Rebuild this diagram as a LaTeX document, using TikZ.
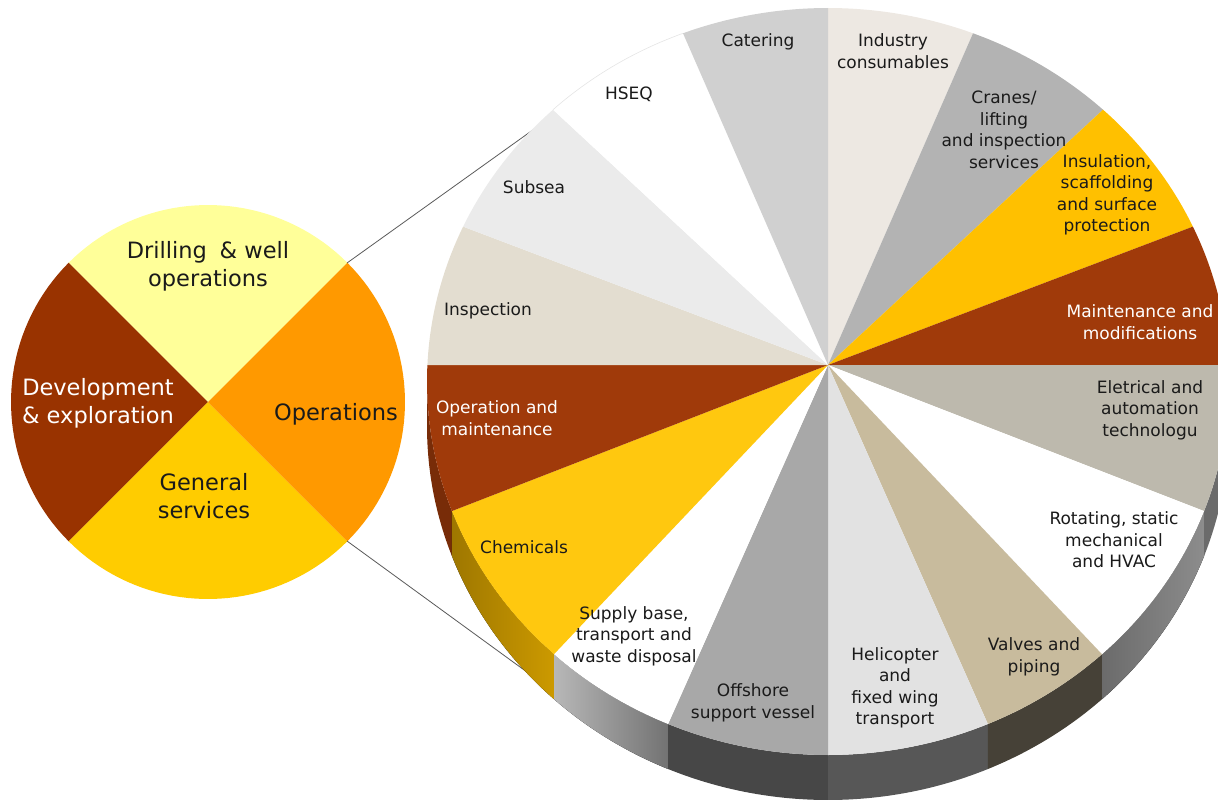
\documentclass[tikz,border=0pt]{standalone}
\usepackage{fontspec}
\setmainfont{DejaVu Sans}
\definecolor{sdrill}{HTML}{FFFF99}
\definecolor{sops}{HTML}{FF9900}
\definecolor{sgen}{HTML}{FFCC00}
\definecolor{sdev}{HTML}{993300}
\definecolor{cind}{HTML}{EDE8E2}
\definecolor{ccra}{HTML}{B3B3B3}
\definecolor{cins}{HTML}{FFC000}
\definecolor{cbrn}{HTML}{A03A0A}
\definecolor{cele}{HTML}{BDB9AD}
\definecolor{cval}{HTML}{C8BB9D}
\definecolor{chel}{HTML}{E2E2E2}
\definecolor{coff}{HTML}{A8A8A8}
\definecolor{cche}{HTML}{FFC80F}
\definecolor{cinsp}{HTML}{E3DDD0}
\definecolor{csub}{HTML}{EBEBEB}
\definecolor{ccat}{HTML}{D0D0D0}
\definecolor{txt}{HTML}{1A1A1A}
\newcommand\myslice[3]{\fill[#3] (apex) -- plot[domain=#1:#2, samples=40, variable=\t] ({ex(\t)},{ey(\t)}) -- cycle;}
\newcommand\myside[3]{\fill[#3] plot[domain=#1:#2, samples=40, variable=\t] ({ex(\t)},{ey(\t)}) -- plot[domain=#2:#1, samples=40, variable=\t] ({ex(\t)},{ey(\t)+45}) -- cycle;}
\newcommand\smslice[3]{\fill[#3] (sc) -- plot[domain=#1:#2, samples=40, variable=\t] ({208+197*cos(\t)},{402-197*sin(\t)}) -- cycle;}
\begin{document}
\begin{tikzpicture}[x=1pt,y=-1pt,
  declare function={ex(\t)=828+401*cos(\t); ey(\t)=381.5-373.5*sin(\t);},
  lbl/.style={font=\fontsize{17}{21.5}\selectfont, align=center, text=txt, inner sep=0pt},
  bigl/.style={font=\fontsize{22.5}{28}\selectfont, align=center, text=txt, inner sep=0pt},
  conn/.style={draw=black!65, line width=0.8pt}]
\useasboundingbox (0,0) rectangle (1218,800);
\clip (0,0) rectangle (1218,800);
\coordinate (apex) at (828,365);
\coordinate (sc) at (208,402);
% small pie
\smslice{45}{135}{sdrill}
\smslice{135}{225}{sdev}
\smslice{225}{315}{sgen}
\smslice{-45}{45}{sops}
% connectors
\coordinate (sp1) at (347,263);
\coordinate (bp1) at (537,127);
\coordinate (sp2) at (347,541);
\coordinate (bp2) at (531,675);
\draw[conn] (sp1) -- (bp1);
\draw[conn] (sp2) -- (bp2);
% big pie sides
\myside{180}{200.3}{fill=cbrn!75!black}
\myside{200.3}{226.9}{left color=cins!62!black, right color=cins!80!black}
\myside{226.9}{246.5}{left color=black!28, right color=black!55}
\myside{246.5}{270}{fill=black!72}
\myside{270}{293.5}{fill=black!66}
\myside{293.5}{313.1}{fill=cval!35!black}
\myside{313.1}{339.7}{left color=black!58, right color=black!45}
\myside{339.7}{362}{fill=black!58}
% big pie top
\myslice{68.8}{90}{cind}
\myslice{46.7}{68.8}{ccra}
\myslice{24.5}{46.7}{cins}
\myslice{2.5}{24.5}{cbrn}
\myslice{-20.3}{2.5}{cele}
\myslice{-46.9}{-20.3}{white}
\myslice{-66.5}{-46.9}{cval}
\myslice{-90}{-66.5}{chel}
\myslice{246.5}{270}{coff}
\myslice{226.9}{246.5}{white}
\myslice{200.3}{226.9}{cche}
\myslice{177.5}{200.3}{cbrn}
\myslice{155.5}{177.5}{cinsp}
\myslice{133.3}{155.5}{csub}
\myslice{111.2}{133.3}{white}
\myslice{90}{111.2}{ccat}
\draw[black!10, line width=0.6pt] plot[domain=111.2:133.3, samples=30, variable=\t] ({ex(\t)},{ey(\t)});
% small pie labels
\node[bigl] (ldrill) at (208,266) {Drilling\hspace{0.25em} \& well\\operations};
\node[bigl, text=white] (ldev) at (98,403) {Development\\\& exploration};
\node[bigl] (lops) at (336,414) {Operations};
\node[bigl] (lgen) at (204,496) {General\\services};
% big pie labels
\node[lbl] (lcat) at (758,42) {Catering};
\node[lbl] (lhse) at (629,94) {HSEQ};
\node[lbl] (lsub) at (534,187) {Subsea};
\node[lbl] (linsp) at (488,311) {Inspection};
\node[lbl] (lind) at (893,51) {Industry\\consumables};
\node[lbl] (lcra) at (1004,130) {Cranes/\\lifting\\and inspection\\services};
\node[lbl] (lins) at (1107,195) {Insulation,\\scaffolding\\and surface\\protection};
\node[lbl, text=white] (lmai) at (1140,322) {Maintenance and\\modifications};
\node[lbl] (lele) at (1150,410) {Eletrical and\\automation\\technologu};
\node[lbl] (lrot) at (1114,540) {Rotating, static\\mechanical\\and HVAC};
\node[lbl] (lval) at (1034,657) {Valves and\\piping};
\node[lbl] (lhel) at (895,688) {Helicopter\\and\\fixed wing\\transport};
\node[lbl] (loff) at (753,703) {Offshore\\support vessel};
\node[lbl] (lsup) at (634,636) {Supply base,\\transport and\\waste disposal};
\node[lbl] (lche) at (524,547) {Chemicals};
\node[lbl, text=white] (lopm) at (497,418) {Operation and\\maintenance};
\end{tikzpicture}
\end{document}
